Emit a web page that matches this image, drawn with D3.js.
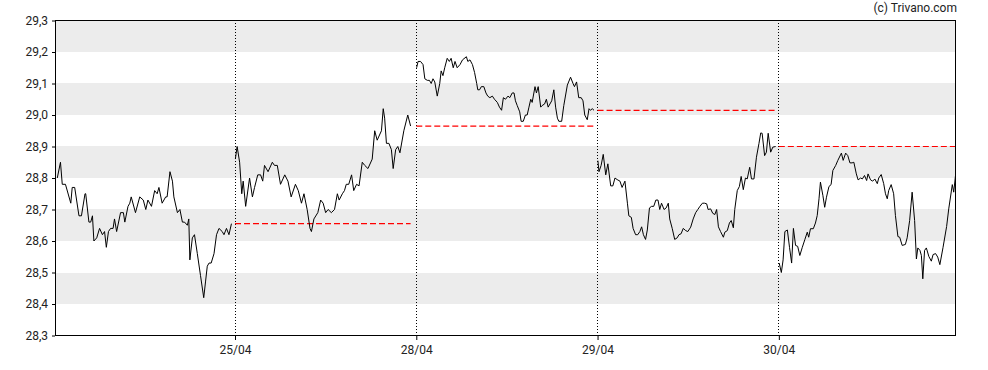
<!DOCTYPE html>
<html>
<head>
<meta charset="utf-8">
<script src="https://cdn.jsdelivr.net/npm/d3@7"></script>
<style>
  body { margin: 0; background: #fff; }
  svg text { font-family: Roboto, "Liberation Sans", Arial, sans-serif; }
</style>
</head>
<body>
<div id="chart"></div>
<script>
// trading days on the axis, first one has no label
const days = ['24/04', '25/04', '28/04', '29/04', '30/04'];
const sessionLength = 510; // minutes, 09:00 - 17:30
const yTicks = [28.3, 28.4, 28.5, 28.6, 28.7, 28.8, 28.9, 29.0, 29.1, 29.2, 29.3];

// [minutes since open, price]
const day0 = [[10,28.80],[19,28.85],[24,28.78],[33,28.78],[48,28.72],[52,28.77],[59,28.77],[71,28.68],[78,28.68],[88,28.75],[90,28.75],[99,28.66],[104,28.66],[109,28.68],[113,28.60],[121,28.61],[129,28.64],[137,28.62],[143,28.63],[148,28.58],[154,28.63],[160,28.64],[167,28.64],[171,28.67],[177,28.63],[188,28.69],[196,28.69],[200,28.66],[209,28.71],[214,28.72],[218,28.74],[230,28.69],[242,28.74],[252,28.73],[259,28.70],[265,28.73],[275,28.71],[284,28.76],[291,28.75],[296,28.77],[305,28.72],[315,28.74],[319,28.74],[327,28.82],[334,28.79],[338,28.74],[348,28.69],[355,28.70],[362,28.66],[368,28.66],[376,28.65],[380,28.67],[383,28.54],[390,28.61],[396,28.62],[404,28.56],[413,28.49],[422,28.42],[427,28.47],[432,28.52],[437,28.53],[443,28.53],[451,28.56],[458,28.62],[465,28.64],[474,28.63],[479,28.62],[486,28.64],[493,28.62],[500,28.655]];
const day1 = [[1,28.86],[6,28.90],[13,28.85],[19,28.75],[23,28.79],[30,28.71],[41,28.80],[49,28.74],[55,28.77],[64,28.81],[72,28.81],[78,28.79],[83,28.84],[93,28.82],[105,28.85],[111,28.84],[119,28.84],[128,28.78],[140,28.81],[149,28.79],[158,28.74],[170,28.78],[178,28.76],[187,28.72],[194,28.75],[203,28.70],[211,28.64],[215,28.63],[222,28.67],[233,28.69],[241,28.73],[248,28.72],[255,28.69],[262,28.70],[271,28.69],[280,28.70],[288,28.75],[293,28.73],[302,28.75],[308,28.76],[313,28.78],[320,28.78],[328,28.81],[334,28.76],[342,28.78],[349,28.775],[358,28.85],[365,28.84],[374,28.83],[386,28.86],[393,28.95],[400,28.92],[412,28.95],[417,29.02],[421,28.99],[426,28.91],[433,28.91],[440,28.89],[445,28.83],[452,28.89],[458,28.90],[464,28.88],[475,28.95],[486,29.00],[494,28.965]];
const day2 = [[1,29.15],[5,29.17],[12,29.17],[19,29.16],[24,29.115],[31,29.11],[37,29.11],[42,29.10],[47,29.115],[52,29.105],[59,29.06],[66,29.10],[70,29.14],[75,29.125],[80,29.15],[87,29.18],[93,29.17],[98,29.18],[104,29.15],[109,29.17],[115,29.15],[123,29.16],[130,29.175],[141,29.185],[145,29.17],[151,29.175],[158,29.16],[164,29.135],[170,29.10],[173,29.08],[178,29.08],[183,29.09],[190,29.09],[196,29.07],[201,29.06],[207,29.055],[214,29.06],[220,29.05],[228,29.04],[234,29.025],[240,29.015],[245,29.055],[251,29.05],[258,29.06],[263,29.055],[270,29.07],[275,29.07],[279,29.045],[284,29.03],[291,29.01],[295,28.98],[301,28.98],[307,29.00],[312,29.00],[317,29.025],[322,29.05],[326,29.04],[334,29.09],[338,29.07],[343,29.09],[350,29.025],[354,29.03],[361,29.035],[366,29.05],[371,29.025],[381,29.045],[387,29.08],[392,29.025],[397,28.99],[401,28.98],[409,28.98],[415,29.03],[425,29.095],[434,29.12],[441,29.10],[445,29.09],[451,29.105],[457,29.055],[464,29.055],[469,29.045],[474,29.00],[481,28.985],[486,29.02],[490,29.015],[495,29.02],[500,29.015]];
const day3 = [[1,28.855],[4,28.82],[10,28.84],[16,28.875],[23,28.81],[29,28.845],[37,28.775],[43,28.775],[49,28.80],[55,28.795],[63,28.79],[69,28.77],[77,28.79],[84,28.72],[88,28.68],[95,28.675],[100,28.64],[107,28.62],[113,28.62],[119,28.63],[124,28.645],[129,28.62],[135,28.605],[140,28.635],[146,28.705],[152,28.71],[158,28.71],[164,28.73],[170,28.73],[175,28.70],[180,28.72],[187,28.70],[193,28.705],[199,28.72],[203,28.67],[210,28.64],[217,28.605],[224,28.61],[229,28.62],[235,28.623],[241,28.64],[248,28.633],[254,28.63],[262,28.644],[269,28.67],[276,28.69],[282,28.70],[288,28.71],[295,28.72],[301,28.72],[307,28.718],[311,28.70],[318,28.702],[324,28.688],[330,28.684],[335,28.70],[340,28.645],[346,28.63],[354,28.612],[358,28.628],[365,28.633],[371,28.657],[376,28.665],[382,28.642],[386,28.70],[393,28.76],[399,28.773],[404,28.805],[410,28.763],[416,28.80],[421,28.797],[428,28.834],[433,28.797],[440,28.797],[447,28.866],[454,28.909],[459,28.943],[463,28.942],[470,28.871],[475,28.882],[480,28.942],[487,28.882],[493,28.898],[501,28.90]];
const day4 = [[1,28.53],[7,28.50],[12,28.54],[17,28.63],[24,28.635],[30,28.58],[36,28.53],[41,28.64],[47,28.586],[53,28.583],[59,28.554],[66,28.58],[73,28.604],[80,28.628],[84,28.612],[89,28.639],[97,28.639],[103,28.657],[108,28.681],[113,28.734],[117,28.787],[124,28.744],[129,28.707],[134,28.739],[141,28.773],[147,28.779],[152,28.824],[160,28.84],[166,28.856],[176,28.879],[181,28.856],[188,28.879],[194,28.871],[200,28.848],[206,28.848],[211,28.85],[218,28.813],[223,28.794],[230,28.80],[235,28.797],[241,28.808],[247,28.792],[251,28.813],[258,28.794],[264,28.79],[270,28.797],[277,28.782],[281,28.80],[288,28.811],[295,28.782],[300,28.75],[305,28.734],[309,28.76],[316,28.779],[323,28.75],[328,28.681],[335,28.614],[340,28.612],[347,28.586],[356,28.589],[361,28.61],[368,28.665],[375,28.755],[382,28.665],[387,28.543],[391,28.578],[397,28.57],[401,28.554],[405,28.48],[410,28.57],[415,28.578],[422,28.551],[429,28.536],[434,28.557],[441,28.56],[447,28.549],[453,28.525],[462,28.58],[472,28.646],[478,28.702],[488,28.779],[492,28.755],[497,28.808]];
const sessions = [day0, day1, day2, day3, day4];

const width = 988, height = 370;
const plot = { left: 55, top: 20, right: 955, bottom: 335 };

const svg = d3.select('#chart')
  .append('svg')
  .attr('width', width)
  .attr('height', height);

// time as day index + fraction of session
const t = (dayIndex, minute) => dayIndex + minute / sessionLength;
const lastDay = sessions.length - 1;
const lastPoint = sessions[lastDay][sessions[lastDay].length - 1];

const x = d3.scaleLinear()
  .domain([t(0, day0[0][0] - 5), t(lastDay, lastPoint[0])])
  .range([plot.left + 0.5, plot.right + 0.5]);

const y = d3.scaleLinear()
  .domain([28.3, 29.3])
  .range([plot.bottom + 0.5, plot.top + 0.5]);

const fmt = d3.formatLocale({ decimal: ',', thousands: '.', grouping: [3], currency: ['', ''] }).format('.1f');

// Grey bands every other interval
const bandStarts = yTicks.slice(0, -1).filter(v => Math.round((v - 28.4) * 10) % 2 === 0);
svg.append('g')
  .selectAll('rect')
  .data(bandStarts)
  .enter()
  .append('rect')
  .attr('x', plot.left)
  .attr('width', plot.right - plot.left)
  .attr('y', d => Math.round(y(d + 0.1)))
  .attr('height', d => Math.round(y(d)) - Math.round(y(d + 0.1)))
  .attr('fill', '#ececec');

// Day separators
const dayTicks = d3.range(1, days.length);
svg.append('g')
  .selectAll('line')
  .data(dayTicks)
  .enter()
  .append('line')
  .attr('x1', d => Math.floor(x(d)) + 0.5)
  .attr('x2', d => Math.floor(x(d)) + 0.5)
  .attr('y1', plot.top)
  .attr('y2', plot.bottom)
  .attr('stroke', '#000')
  .attr('stroke-width', 1)
  .attr('stroke-dasharray', '1,2');

// Previous close reference lines
const refs = dayTicks.map(k => {
  const prev = sessions[k - 1];
  const cur = sessions[k];
  return { day: k, value: prev[prev.length - 1][1], end: cur[cur.length - 1][0] };
});
svg.append('g')
  .selectAll('line')
  .data(refs)
  .enter()
  .append('line')
  .attr('x1', d => x(d.day))
  .attr('x2', d => x(t(d.day, d.end)))
  .attr('y1', d => y(d.value))
  .attr('y2', d => y(d.value))
  .attr('stroke', '#ff0000')
  .attr('stroke-width', 1.2)
  .attr('stroke-dasharray', '6,3');

// Price line, one path per day
const line = d3.line()
  .x(d => x(t(d.day, d[0])))
  .y(d => y(d[1]));

svg.append('g')
  .selectAll('path')
  .data(sessions.map((s, i) => s.map(p => Object.assign([p[0], p[1]], { day: i }))))
  .enter()
  .append('path')
  .attr('d', line)
  .attr('fill', 'none')
  .attr('stroke', '#000')
  .attr('stroke-width', 1);

// Frame
svg.append('rect')
  .attr('x', plot.left + 0.5)
  .attr('y', plot.top + 0.5)
  .attr('width', plot.right - plot.left)
  .attr('height', plot.bottom - plot.top)
  .attr('fill', 'none')
  .attr('stroke', '#000');

// Y axis
const yAxis = svg.append('g')
  .attr('transform', `translate(${plot.left},0)`)
  .call(d3.axisLeft(y).tickValues(yTicks).tickFormat(fmt).tickSize(3).tickPadding(4));
yAxis.select('.domain').remove();
yAxis.selectAll('text')
  .style('font-size', '12px')
  .attr('fill', '#222');

// X axis
const xAxis = svg.append('g')
  .attr('transform', `translate(0,${plot.bottom})`)
  .call(d3.axisBottom(x).tickValues(dayTicks).tickFormat(d => days[d]).tickSize(5).tickPadding(5));
xAxis.select('.domain').remove();
xAxis.selectAll('text')
  .style('font-size', '12px')
  .attr('fill', '#222');

// Copyright
svg.append('text')
  .attr('x', 957)
  .attr('y', 12)
  .attr('text-anchor', 'end')
  .style('font-size', '12px')
  .attr('fill', '#222')
  .text('(c) Trivano.com');
</script>
</body>
</html>
